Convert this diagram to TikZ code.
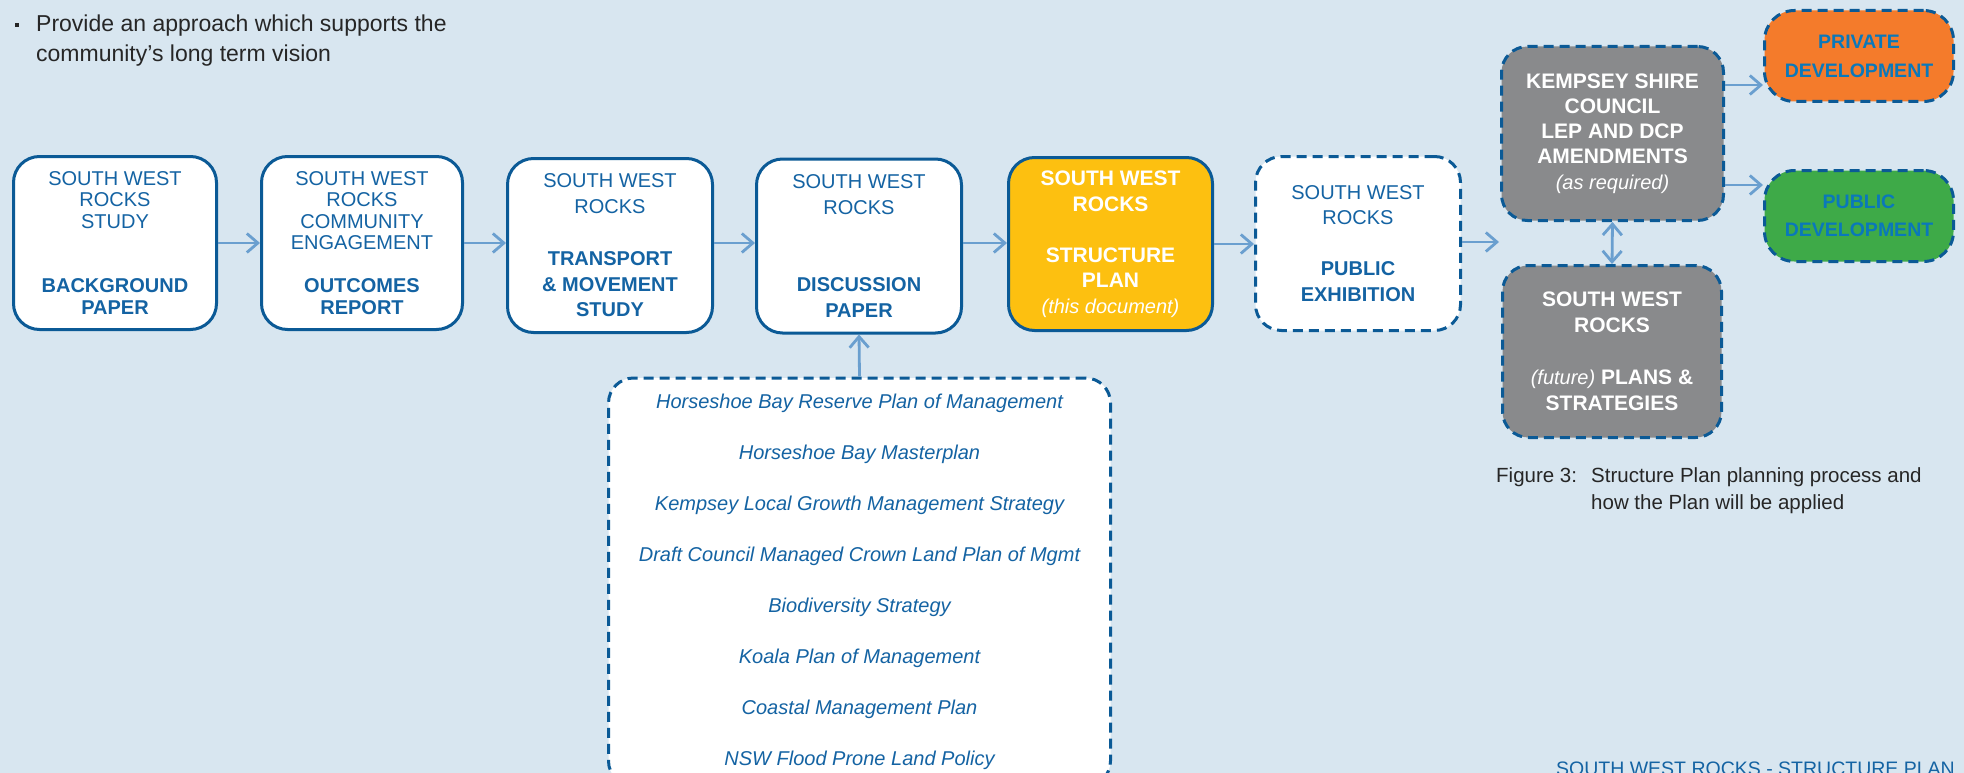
\documentclass[tikz,border=0pt]{standalone}
\usepackage{fontspec}
\setmainfont{Liberation Sans}
\usetikzlibrary{arrows.meta}
\definecolor{bg}{HTML}{D8E6F0}
\definecolor{boxblue}{HTML}{0B5A96}
\definecolor{txtblue}{HTML}{1463A3}
\definecolor{arrowblue}{HTML}{6A9FCF}
\definecolor{yellowbox}{HTML}{FDC010}
\definecolor{greybox}{HTML}{898A8C}
\definecolor{orangebox}{HTML}{F47B2B}
\definecolor{greenbox}{HTML}{3EAA48}
\definecolor{devblue}{HTML}{0A78BA}
\definecolor{txtdark}{HTML}{262626}
\begin{document}
\begin{tikzpicture}[x=1pt,y=-1pt,
  >={Straight Barb[length=11pt,width=19pt]},
  box/.style={rounded corners=26pt, line width=3pt, draw=boxblue, fill=white,
    inner sep=0pt, align=center, text=txtblue},
  dbox/.style={box, dash pattern=on 10pt off 6pt},
  arr/.style={->, draw=arrowblue, line width=2.8pt},
  regf/.style={font=\fontsize{20}{#1}\selectfont},
  wbold/.style={text=white, font=\fontsize{21}{#1}\selectfont\bfseries}
]
\path[use as bounding box, fill=bg] (0,0) rectangle (1964,773);
\clip (0,0) rectangle (1964,773);

% intro text
\node[fill=txtdark, minimum size=4.5pt, inner sep=0pt] (bul) at (17,25) {};
\node[anchor=base west, inner sep=0pt, text=txtdark, font=\fontsize{23}{30}\selectfont] (intro1) at (36,32) {Provide an approach which supports the};
\node[anchor=base west, inner sep=0pt, text=txtdark, font=\fontsize{23}{30}\selectfont] (intro2) at (36,62) {community’s long term vision};

% first row
\node[box, regf=21.5, minimum width=203pt, minimum height=173pt] (b1) at (115,243)
  {SOUTH WEST\\ROCKS\\STUDY\\[43pt]\textbf{BACKGROUND}\\\textbf{PAPER}};
\node[box, regf=21.5, minimum width=201pt, minimum height=173pt] (b2) at (362,243)
  {SOUTH WEST\\ROCKS\\COMMUNITY\\ENGAGEMENT\\[21.5pt]\textbf{OUTCOMES}\\\textbf{REPORT}};
\node[box, regf=25.8, minimum width=205pt, minimum height=174pt] (b3) at (610,245.5)
  {SOUTH WEST\\ROCKS\\[25.8pt]\textbf{TRANSPORT}\\\textbf{\& MOVEMENT}\\\textbf{STUDY}};
\node[box, regf=25.8, minimum width=205pt, minimum height=174pt] (b4) at (859,246)
  {SOUTH WEST\\ROCKS\\[51.6pt]\textbf{DISCUSSION}\\\textbf{PAPER}};
\node[box, fill=yellowbox, wbold=25.5, minimum width=204pt, minimum height=173pt] (b5) at (1110.5,244)
  {SOUTH WEST\\ROCKS\\[25.5pt]STRUCTURE\\PLAN\\\fontsize{20}{25.5}\selectfont\mdseries\itshape (this document)};
\node[dbox, regf=25.5, minimum width=205pt, minimum height=174pt] (b6) at (1358,243.5)
  {SOUTH WEST\\ROCKS\\[25.5pt]\textbf{PUBLIC}\\\textbf{EXHIBITION}};

% right side
\node[dbox, fill=greybox, wbold=25.2, minimum width=222pt, minimum height=174pt] (b7) at (1612.5,133.5)
  {KEMPSEY SHIRE\\COUNCIL\\LEP AND DCP\\AMENDMENTS\\\fontsize{20}{25.2}\selectfont\mdseries\itshape (as required)};
\node[dbox, fill=orangebox, rounded corners=30pt, text=devblue, font=\fontsize{19.5}{29}\selectfont\bfseries,
  minimum width=189pt, minimum height=91pt] (pv) at (1859,56) {PRIVATE\\DEVELOPMENT};
\node[dbox, fill=greenbox, rounded corners=30pt, text=devblue, font=\fontsize{19.5}{28}\selectfont\bfseries,
  minimum width=189pt, minimum height=91pt] (pb) at (1859,216) {PUBLIC\\DEVELOPMENT};
\node[dbox, fill=greybox, wbold=26, minimum width=219pt, minimum height=172pt] (b8) at (1612,351.5)
  {SOUTH WEST\\ROCKS\\[26pt]{\fontsize{20}{26}\selectfont\mdseries\itshape (future)} PLANS \&\\STRATEGIES};

% lower list box
\node[dbox, rounded corners=25pt, minimum width=502pt, minimum height=408pt,
  font=\fontsize{20}{51}\selectfont\itshape] (lb) at (859.5,582)
  {Horseshoe Bay Reserve Plan of Management\\
   Horseshoe Bay Masterplan\\
   Kempsey Local Growth Management Strategy\\
   Draft Council Managed Crown Land Plan of Mgmt\\
   Biodiversity Strategy\\
   Koala Plan of Management\\
   Coastal Management Plan\\
   NSW Flood Prone Land Policy};

% caption
\node[anchor=base west, inner sep=0pt, text=txtdark, font=\fontsize{20.5}{27}\selectfont] (fig) at (1496,482) {Figure 3:};
\node[anchor=base west, inner sep=0pt, text=txtdark, font=\fontsize{20.5}{27}\selectfont] (cap1) at (1591,482) {Structure Plan planning process and};
\node[anchor=base west, inner sep=0pt, text=txtdark, font=\fontsize{20.5}{27}\selectfont] (cap2) at (1591,509) {how the Plan will be applied};

% footer
\node[anchor=base east, inner sep=0pt, text=txtblue, font=\fontsize{19.5}{24}\selectfont] (foot) at (1955,775) {SOUTH WEST ROCKS - STRUCTURE PLAN};

% connectors
\draw[arr] (b1.east) -- (b2.west);
\draw[arr] (b2.east) -- (b2.east -| b3.west);
\draw[arr] (b2.east -| b3.east) -- (b2.east -| b4.west);
\draw[arr] (b2.east -| b4.east) -- (b2.east -| b5.west);
\draw[arr] (b5.east) -- (b5.east -| b6.west);
\coordinate (j) at (1499,242);
\draw[arr] (b6.east |- j) -- (j);
\draw[arr] (lb.north) -- (b4.south);
\draw[arr] ([yshift=48.5pt]b7.east) -- ([yshift=48.5pt]b7.east -| pv.west);
\draw[arr] ([yshift=-51.5pt]b7.east) -- ([yshift=-51.5pt]b7.east -| pb.west);
\draw[arr, <->] (b7.south) -- (b8.north);
\end{tikzpicture}
\end{document}
